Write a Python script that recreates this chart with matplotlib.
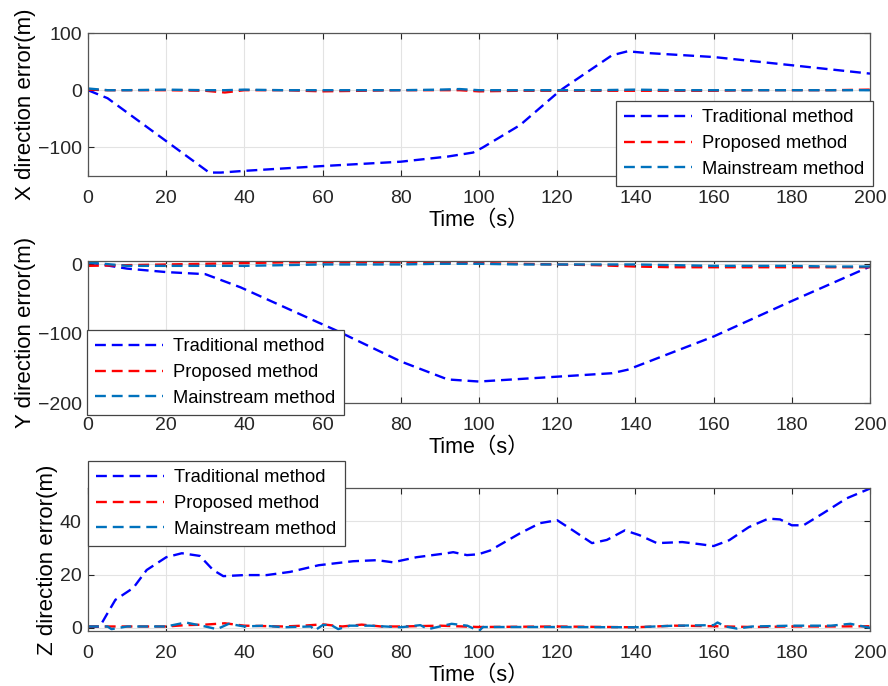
import numpy as np
import matplotlib
matplotlib.use("Agg")
import matplotlib.pyplot as plt

plt.rcParams['font.family'] = ['Liberation Sans', 'Noto Sans CJK SC']

# ---- data ----
# X direction
tx_trad = [0, 5, 31, 34, 40, 59, 80, 92, 98.5, 101, 110.5, 120, 121.5, 134, 138, 143, 160, 179.5, 200]
x_trad = [0, -14, -144, -144, -141, -133, -125, -116, -109, -100, -61, -5, 3, 61, 68, 65, 58, 44, 29]
tx_small = [0, 5, 10, 20, 30, 35, 40, 50, 60, 70, 80, 90, 95, 100, 110, 120, 130, 140, 150, 160, 170, 180, 190, 200]
x_prop = [1, 0, 0, 0, -1, -4, 0, 0, -2, -1, 0, 0, 0, -2, -1, -1, -1, -1, -1, -1, 0, 0, 0, 1]
x_main = [3, 0, 0, 1, 0, 0, 1, 0, 0, 0, 0, 1, 2, 0, 0, 0, 0, 1, 0, 0, 0, 0, 0, 0]

# Y direction
ty_trad = [0, 10, 20, 30, 39, 59, 63, 80, 92, 100, 120, 134, 138, 160, 179.5, 200]
y_trad = [3, -6, -11, -14, -33, -84, -94, -140, -166, -169, -162, -157, -152, -104, -54, -3]
ty_small = [0, 10, 20, 30, 40, 50, 60, 70, 80, 90, 100, 110, 120, 130, 140, 150, 160, 170, 180, 190, 200]
y_prop = [-2, -1, 0, 1, 2, 3, 3, 3, 3, 3, 2, 1, 0, -1, -3, -4, -4, -4, -4, -4, -4]
y_main = [3, -2, -2, -2, -2, -1, 0, 0, 0, 1, 1, 0, 0, 0, 0, -1, -2, -2, -2, -3, -3]

# Z direction
tz_trad = [0, 3, 4.8, 7, 11.6, 15, 20, 24, 28.6, 32, 34.6, 40, 45.7, 51.7, 59, 67.8, 73.9, 78, 84, 91.8,
           93.4, 96.9, 99.8, 102.8, 110.5, 115.6, 120, 124, 128.9, 132.7, 137.3, 141, 145.5, 152, 156.5,
           160, 164, 169, 174, 177, 180, 183, 188, 194, 200]
z_trad = [0.4, 0.4, 5, 10.5, 15, 21.7, 26.5, 28, 27, 21.7, 19.4, 19.8, 19.8, 21, 23.5, 25, 25.4, 24.6, 26.5, 28,
          28.4, 27.3, 27.6, 29, 35.5, 39.3, 40.4, 36.6, 31.8, 33, 36.6, 34.8, 31.8, 32.2, 31.4,
          30.7, 32.9, 37.8, 41, 40.7, 38.5, 38.5, 43, 48.6, 52.3]
tz_prop = [0, 10, 20, 25, 30, 35, 40, 50, 55, 60, 65, 70, 75, 80, 90, 100, 120, 140, 150, 160, 170, 180, 190, 200]
z_prop = [0.5, 0.5, 0.5, 1, 1.2, 1.7, 0.8, 0.5, 0.8, 1.3, 0.5, 1.2, 0.5, 0.5, 0.8, 0.3, 0.5, 0.2, 0.8, 0.6,
          0.3, 0.5, 0.5, 0.6]
tz_main = [0, 5, 6, 10, 20, 25, 30, 33, 36, 40, 45, 50, 57, 58, 60, 62, 64, 67, 72, 80, 85, 87, 90, 93, 97,
           100, 101, 120, 140, 150, 160, 161, 163, 166, 170, 180, 190, 195, 200]
z_main = [0.5, 0.5, -0.5, 0.5, 0.5, 2, 0.5, -0.5, 1.5, 0.5, 0.8, 0.2, 0.5, -1, 1, 1.2, -0.5, 0.8, 0.8, 0.2, 1,
          -0.5, 0.5, 1.5, 0.8, -1.2, 0.3, 0.3, 0.2, 0.8, 1, 2, 0.5, -0.3, 0.5, 0.8, 0.8, 1.5, 0]

labels = ["Traditional method", "Proposed method", "Mainstream method"]
colors = ["#0000ff", "#ff0000", "#0072bd"]
ylabels = ["X direction error(m)", "Y direction error(m)", "Z direction error(m)"]
ylims = [(-150, 100), (-200, 5), (-1.2, 52.5)]
yticks = [[-100, 0, 100], [-200, -100, 0], [0, 20, 40]]

series = [
    [(tx_trad, x_trad), (tx_small, x_prop), (tx_small, x_main)],
    [(ty_trad, y_trad), (ty_small, y_prop), (ty_small, y_main)],
    [(tz_trad, z_trad), (tz_prop, z_prop), (tz_main, z_main)],
]

W, H = 888, 686
fig = plt.figure(figsize=(W / 100, H / 100), dpi=100)

# axes boxes in pixels: (top, bottom)
boxes = [(33, 176), (261, 403), (488, 631)]
# legend upper-left corners in pixels
leg_pos = [(616, 101), (87, 330), (88, 461)]

for i in range(3):
    top, bot = boxes[i]
    ax = fig.add_axes([88 / W, 1 - bot / H, (870 - 88) / W, (bot - top) / H])
    for j in range(3):
        t, v = series[i][j]
        ax.plot(t, v, color=colors[j], lw=1.7, ls=(0, (4.6, 2.5)), label=labels[j])
    ax.set_xlim(0, 200)
    ax.set_ylim(*ylims[i])
    ax.set_xticks(np.arange(0, 201, 20))
    ax.set_yticks(yticks[i])
    ax.grid(True, color="#e3e3e3", lw=0.8)
    ax.set_axisbelow(True)
    ax.tick_params(direction="in", top=True, right=True, length=4,
                   colors="#262626", labelsize=14)
    ax.tick_params(axis="x", pad=10)
    ax.tick_params(axis="y", pad=4.5)
    for s in ax.spines.values():
        s.set_color("#555555")
        s.set_linewidth(0.9)
    ax.set_xlabel("Time（s）", fontsize=15.5, labelpad=2)
    ax.set_ylabel(ylabels[i], fontsize=16, labelpad=1.5)
    lx, ly = leg_pos[i]
    leg = ax.legend(loc="upper left", bbox_to_anchor=(lx / W, 1 - ly / H),
                    bbox_transform=fig.transFigure, borderaxespad=0,
                    fontsize=13.2, handlelength=3.7, handletextpad=0.55,
                    labelspacing=0.48, borderpad=0.45, fancybox=False,
                    framealpha=1, edgecolor="#444444")
    leg.get_frame().set_linewidth(0.9)
    leg.set_zorder(10)

fig.savefig("out.png", dpi=100)
